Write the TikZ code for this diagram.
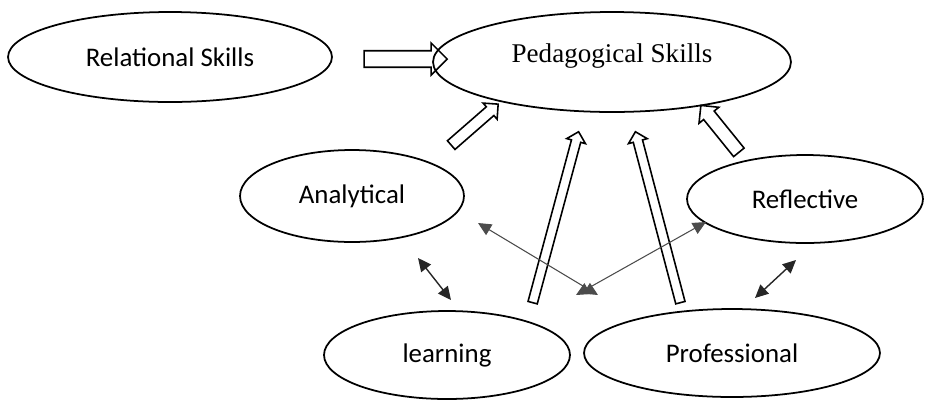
\documentclass[tikz,border=0pt]{standalone}
\usepackage{fontspec}
\setmainfont{Carlito}
\newfontfamily\timesfont{Liberation Serif}
\usepackage{tikz}
\usetikzlibrary{shapes.geometric,shapes.arrows,arrows.meta,calc}
\tikzset{
	skill/.style={ellipse, draw=black, line width=1pt, inner sep=0pt, outer sep=0pt, font=\fontsize{15.3}{18}\selectfont},
	hollow/.style={single arrow, draw=black, line width=0.9pt, inner xsep=0pt, outer sep=0pt},
	link/.style={{Triangle[length=7.5pt,width=7pt]}-{Triangle[length=7.5pt,width=7pt]}, line width=0.8pt, black!85},
	cross/.style={{Triangle[length=7.5pt,width=7pt]}-{Triangle[length=7.5pt,width=7pt]}, line width=0.6pt, black!70}
}
% hollow block arrow between two named points
\newcommand{\blockarrow}[3]{%
	\path let \p1=($(#3)-(#2)$), \n1={atan2(\y1,\x1)}, \n2={veclen(\x1,\y1)} in
	node[hollow, #1, rotate=\n1, minimum height=\n2] at ($(#2)!0.5!(#3)$) {};}

\begin{document}
\begin{tikzpicture}[x=0.02cm, y=-0.02cm]
\useasboundingbox (0,0) rectangle (926,400);
\node[skill, minimum width=6.48cm, minimum height=1.8cm] (Rel) at (170,57) {Relational Skills};
\node[skill, minimum width=7.16cm, minimum height=2.0cm] (Ped) at (612,62) {};
\node[font=\timesfont\fontsize{15.4}{18}\selectfont] (PedText) at (612,56) {Pedagogical Skills};
\node[skill, minimum width=4.48cm, minimum height=1.84cm] (Ana) at (352,196) {Analytical};
\node[skill, minimum width=4.72cm, minimum height=1.76cm] (Ref) at (805,199) {Reflective};
\node[skill, minimum width=4.92cm, minimum height=1.76cm] (Lea) at (447,355) {learning};
\node[skill, minimum width=5.92cm, minimum height=1.76cm] (Pro) at (732,353) {Professional};

% ends of the block arrows
\coordinate (r1) at (360,59);   \coordinate (r2) at (443,59);
\coordinate (a1) at (449,147);  \coordinate (a2) at (496,106);
\coordinate (l1) at (532,305);  \coordinate (l2) at (578,134);
\coordinate (p1) at (681,305);  \coordinate (p2) at (636,134);
\coordinate (f1) at (741,155);  \coordinate (f2) at (703,108);
\blockarrow{inner ysep=4.25pt, single arrow head extend=4.4pt}{r1}{r2}
\blockarrow{inner ysep=2.83pt, single arrow head extend=2.8pt}{a1}{a2}
\blockarrow{inner ysep=2.27pt, single arrow head extend=2.8pt}{l1}{l2}
\blockarrow{inner ysep=2.27pt, single arrow head extend=2.8pt}{p1}{p2}
\blockarrow{inner ysep=3.4pt, single arrow head extend=3.4pt}{f1}{f2}

% thin two-way arrows
\coordinate (t1) at (418,258);  \coordinate (t2) at (451,300);
\coordinate (t3) at (796,260);  \coordinate (t4) at (755,298);
\coordinate (c1) at (478,223);  \coordinate (c2) at (598,295);
\coordinate (c3) at (706,222);  \coordinate (c4) at (576,295);
\draw[link] (t1) -- (t2);
\draw[link] (t3) -- (t4);
\draw[cross] (c1) -- (c2);
\draw[cross] (c3) -- (c4);
\end{tikzpicture}
\end{document}
